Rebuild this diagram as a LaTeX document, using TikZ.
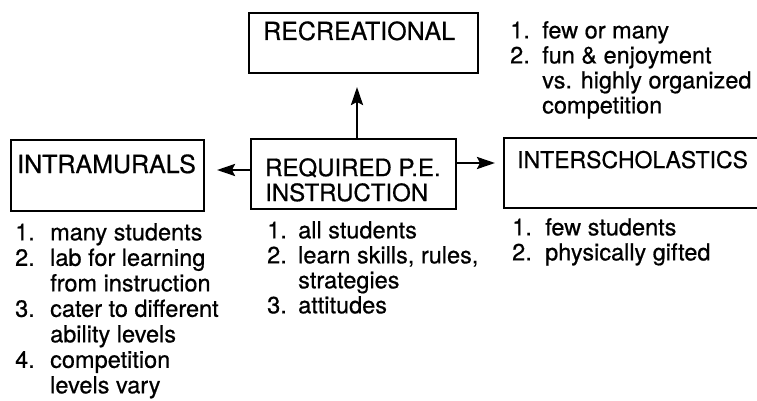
\documentclass[tikz,border=0pt]{standalone}
\usepackage{fontspec}
\setmainfont{TeX Gyre Heros}[FakeBold=0.6]
\usetikzlibrary{arrows.meta}
\newcommand{\numlab}[2]{\makebox[#1][l]{#2}}
\begin{document}
\begin{tikzpicture}[x=1pt,y=-1pt,
  boxnode/.style={draw, line width=2.2pt, inner sep=0pt, anchor=north west},
  boxtext/.style={inner sep=0pt, anchor=base west, align=left},
  listtext/.style={inner sep=0pt, anchor=north west, align=left, font=\fontsize{23.5}{25}\selectfont},
  arr/.style={line width=2.5pt, -{Stealth[length=18pt,width=12pt,inset=3pt]}}
]
\useasboundingbox (0,0) rectangle (757,401);
\clip (0,0) rectangle (757,401);

% boxes
\node[boxnode, minimum width=229pt, minimum height=60pt] (rec) at (248,12) {};
\node[boxnode, minimum width=193pt, minimum height=71pt] (intra) at (10,139) {};
\node[boxnode, minimum width=205pt, minimum height=70pt] (req) at (250,138) {};
\node[boxnode, minimum width=262pt, minimum height=70pt] (inter) at (503,137) {};

% box texts
\node[boxtext, font=\fontsize{25}{25}\selectfont] (recT) at (263,40) {RECREATIONAL};
\node[boxtext, font=\fontsize{25}{25}\selectfont] (intraT) at (17,173) {INTRAMURALS};
\node[boxtext, anchor=north west, font=\fontsize{24}{25}\selectfont] (reqT) at (265,158) {REQUIRED P.E.\\INSTRUCTION};
\node[boxtext, font=\fontsize{23}{25}\selectfont] (interT) at (517,168) {INTERSCHOLASTICS};

% arrows
\coordinate (upTip) at (357,87);
\coordinate (leftTip) at (217,170);
\coordinate (rightTip) at (495,163);
\draw[arr] (req.north -| upTip) -- (upTip);
\draw[arr] (req.west |- leftTip) -- (leftTip);
\draw[arr] (req.east |- rightTip) -- (rightTip);

% lists
\node[listtext] (recL) at (510,21) {%
\numlab{32pt}{1.}few or many\\
\numlab{32pt}{2.}fun \& enjoyment\\
\numlab{32pt}{}vs. highly organized\\
\numlab{32pt}{}competition};

\node[listtext, font=\fontsize{23.5}{25.5}\selectfont] (intraL) at (15,223) {%
\numlab{35pt}{1.}many students\\
\numlab{35pt}{2.}lab for learning\\
\numlab{35pt}{}from instruction\\
\numlab{35pt}{3.}cater to different\\
\numlab{35pt}{}ability levels\\
\numlab{35pt}{4.}competition\\
\numlab{35pt}{}levels vary};

\node[listtext] (reqL) at (267,221) {%
\numlab{31pt}{1.}all students\\
\numlab{31pt}{2.}learn skills, rules,\\
\numlab{31pt}{}strategies\\
\numlab{31pt}{3.}attitudes};

\node[listtext] (interL) at (512,218) {%
\numlab{33pt}{1.}few students\\
\numlab{33pt}{2.}physically gifted};
\end{tikzpicture}
\end{document}
